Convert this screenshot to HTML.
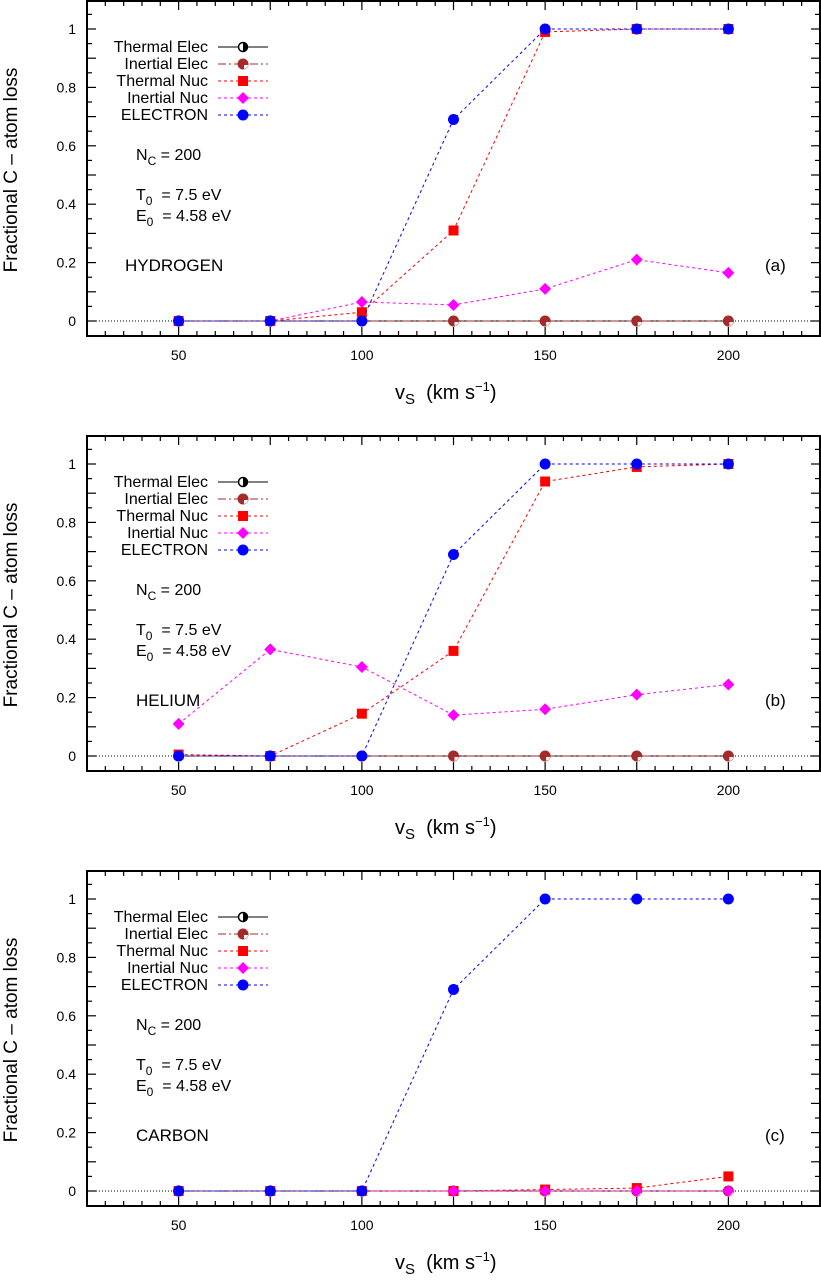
<!DOCTYPE html>
<html><head><meta charset="utf-8"><style>
body{margin:0;background:#fff;width:821px;height:1277px;overflow:hidden}
svg{font-family:"Liberation Sans",sans-serif}
</style></head><body>
<svg id="c" width="821" height="1277"></svg>
<script>
const xs=[50,75,100,125,150,175,200];
const xTicks=[50,100,150,200];
const yTicks=[0,0.2,0.4,0.6,0.8,1];
const elecA=[0,0,0,0,0,0,0];
const tnucA=[0,0,0.03,0.31,0.99,1,1];
const inucA=[0,0,0.065,0.055,0.11,0.21,0.165];
const electronA=[0,0,0,0.69,1,1,1];
const tnucB=[0.005,0,0.145,0.36,0.94,0.99,1];
const inucB=[0.11,0.365,0.305,0.14,0.16,0.21,0.245];
const electronB=[0,0,0,0.69,1,1,1];
const tnucC=[0,0,0,0,0.005,0.01,0.05];
const inucC=[0,0,0,0,0,0,0];
const electronC=[0,0,0,0.69,1,1,1];
const panels=[
 {off:0,name:'HYDROGEN',tag:'(a)',tn:tnucA,inn:inucA,el:electronA,ee:elecA},
 {off:435,name:'HELIUM',tag:'(b)',tn:tnucB,inn:inucB,el:electronB,ee:elecA},
 {off:870,name:'CARBON',tag:'(c)',tn:tnucC,inn:inucC,el:electronC,ee:elecA}];
const NS='http://www.w3.org/2000/svg';
const svg=document.getElementById('c');
function mk(t,a,p){const e=document.createElementNS(NS,t);for(const k in a)e.setAttribute(k,a[k]);(p||svg).appendChild(e);return e;}
const L=87,R=820,X0=25,X1=225;
function sx(v){return L+(v-X0)/(X1-X0)*(R-L);}
panels.forEach((P,i)=>{
 const g=mk('g',{});
 
 
 const top=P.off+1,bot=P.off+336;
 const sy=v=>P.off+321-v*292;
 mk('line',{x1:L,x2:R,y1:sy(0),y2:sy(0),stroke:'#000','stroke-dasharray':'1,2','stroke-width':1},g);
 for(let v=30;v<=220;v+=5){const maj=v%25==0;const h=maj?9:5;const x=sx(v);
  mk('line',{x1:x,x2:x,y1:bot,y2:bot-h,stroke:'#000','stroke-width':1.2},g);
  mk('line',{x1:x,x2:x,y1:top,y2:top+h,stroke:'#000','stroke-width':1.2},g);}
 for(let k=-1;k<=22;k++){const v=k*0.05;const y=sy(v);if(y<top||y>bot)continue;const h=k%2==0?9:5;
  mk('line',{x1:L,x2:L+h,y1:y,y2:y,stroke:'#000','stroke-width':1.2},g);
  mk('line',{x1:R,x2:R-h,y1:y,y2:y,stroke:'#000','stroke-width':1.2},g);}
 xTicks.forEach(v=>{const t=mk('text',{x:sx(v),y:bot+24,'text-anchor':'middle','font-size':14},g);t.textContent=v;
  });
 yTicks.forEach(v=>{const t=mk('text',{x:76,y:sy(v)+5,'text-anchor':'end','font-size':14},g);t.textContent=v;
  });
 mk('rect',{x:L,y:top,width:R-L,height:bot-top,fill:'none',stroke:'#000','stroke-width':2},g);
 const yt=mk('text',{x:0,y:0,'text-anchor':'middle','font-size':19,transform:`translate(17,${P.off+170}) rotate(-90)`},g);
 yt.textContent='Fractional C \u2013 atom loss';
 
 const xt=mk('text',{x:395,y:P.off+399,'font-size':20},g);
 xt.innerHTML='v<tspan font-size="15" dy="5">S</tspan><tspan dy="-5" xml:space="preserve">  (km s</tspan><tspan font-size="13" dy="-8">\u22121</tspan><tspan dy="8">)</tspan>';
 
 const a1=mk('text',{x:136,y:P.off+160,'font-size':16},g);a1.innerHTML='N<tspan font-size="12" dy="5">C</tspan><tspan dy="-5"> = 200</tspan>';
 
 const a2=mk('text',{x:136,y:P.off+200,'font-size':16},g);a2.innerHTML='T<tspan font-size="12" dy="5">0</tspan><tspan dy="-5" xml:space="preserve">  = 7.5 eV</tspan>';
 
 const a3=mk('text',{x:136,y:P.off+221,'font-size':16},g);a3.innerHTML='E<tspan font-size="12" dy="5">0</tspan><tspan dy="-5" xml:space="preserve">  = 4.58 eV</tspan>';
 
 const nm=mk('text',{x:i==0?125:136,y:P.off+271,'font-size':17},g);nm.textContent=P.name;
 
 const tg=mk('text',{x:765,y:P.off+271,'font-size':17},g);tg.textContent=P.tag;
 
 const series=[
  {n:'Thermal Elec',d:P.ee,c:'#000',dash:'',m:'halfc'},
  {n:'Inertial Elec',d:P.ee,c:'#a52a2a',dash:'8,3,2,3',m:'notch'},
  {n:'Thermal Nuc',d:P.tn,c:'#ff0000',dash:'3,3',m:'sq'},
  {n:'Inertial Nuc',d:P.inn,c:'#ff00ff',dash:'3,3',m:'dia'},
  {n:'ELECTRON',d:P.el,c:'#0000ff',dash:'3,3',m:'circ'}];
 function marker(m,x,y,c,pg){
  if(m=='sq')mk('rect',{x:x-5,y:y-5,width:10,height:10,fill:c},pg);
  else if(m=='dia')mk('polygon',{points:`${x},${y-6} ${x+6},${y} ${x},${y+6} ${x-6},${y}`,fill:c},pg);
  else if(m=='halfc'){mk('circle',{cx:x,cy:y,r:4.5,fill:'#fff',stroke:'#000','stroke-width':1.5},pg);mk('path',{d:`M${x},${y-4.5} A4.5,4.5 0 0 1 ${x},${y+4.5} Z`,fill:'#000'},pg);}
  else if(m=='notch'){mk('circle',{cx:x,cy:y,r:5.5,fill:c},pg);mk('path',{d:`M${x+1},${y+1} h4 a5,5 0 0 1 -4,4 Z`,fill:'#fff'},pg);}
  else mk('circle',{cx:x,cy:y,r:5.5,fill:c},pg);
 }
 [0,1,2,3,4].forEach(si=>{const s=series[si];
  const sg=mk('g',{},g);
  
  
  const pts=s.d.map((v,j)=>sx(xs[j])+','+sy(v)).join(' ');
  mk('polyline',{points:pts,fill:'none',stroke:s.c,'stroke-width':1,'stroke-dasharray':s.dash},sg);
  s.d.forEach((v,j)=>marker(s.m,sx(xs[j]),sy(v),s.c,sg));
 });
 series.forEach((s,k)=>{const y=P.off+47+k*17;
  const lg=mk('g',{},g);
  
  
  const t=mk('text',{x:208,y:y+5,'text-anchor':'end','font-size':16},lg);t.textContent=s.n;
  mk('line',{x1:218,x2:268,y1:y,y2:y,stroke:s.c,'stroke-width':1,'stroke-dasharray':s.dash},lg);
  marker(s.m,243,y,s.c,lg);
 });
});
</script>
</body></html>
